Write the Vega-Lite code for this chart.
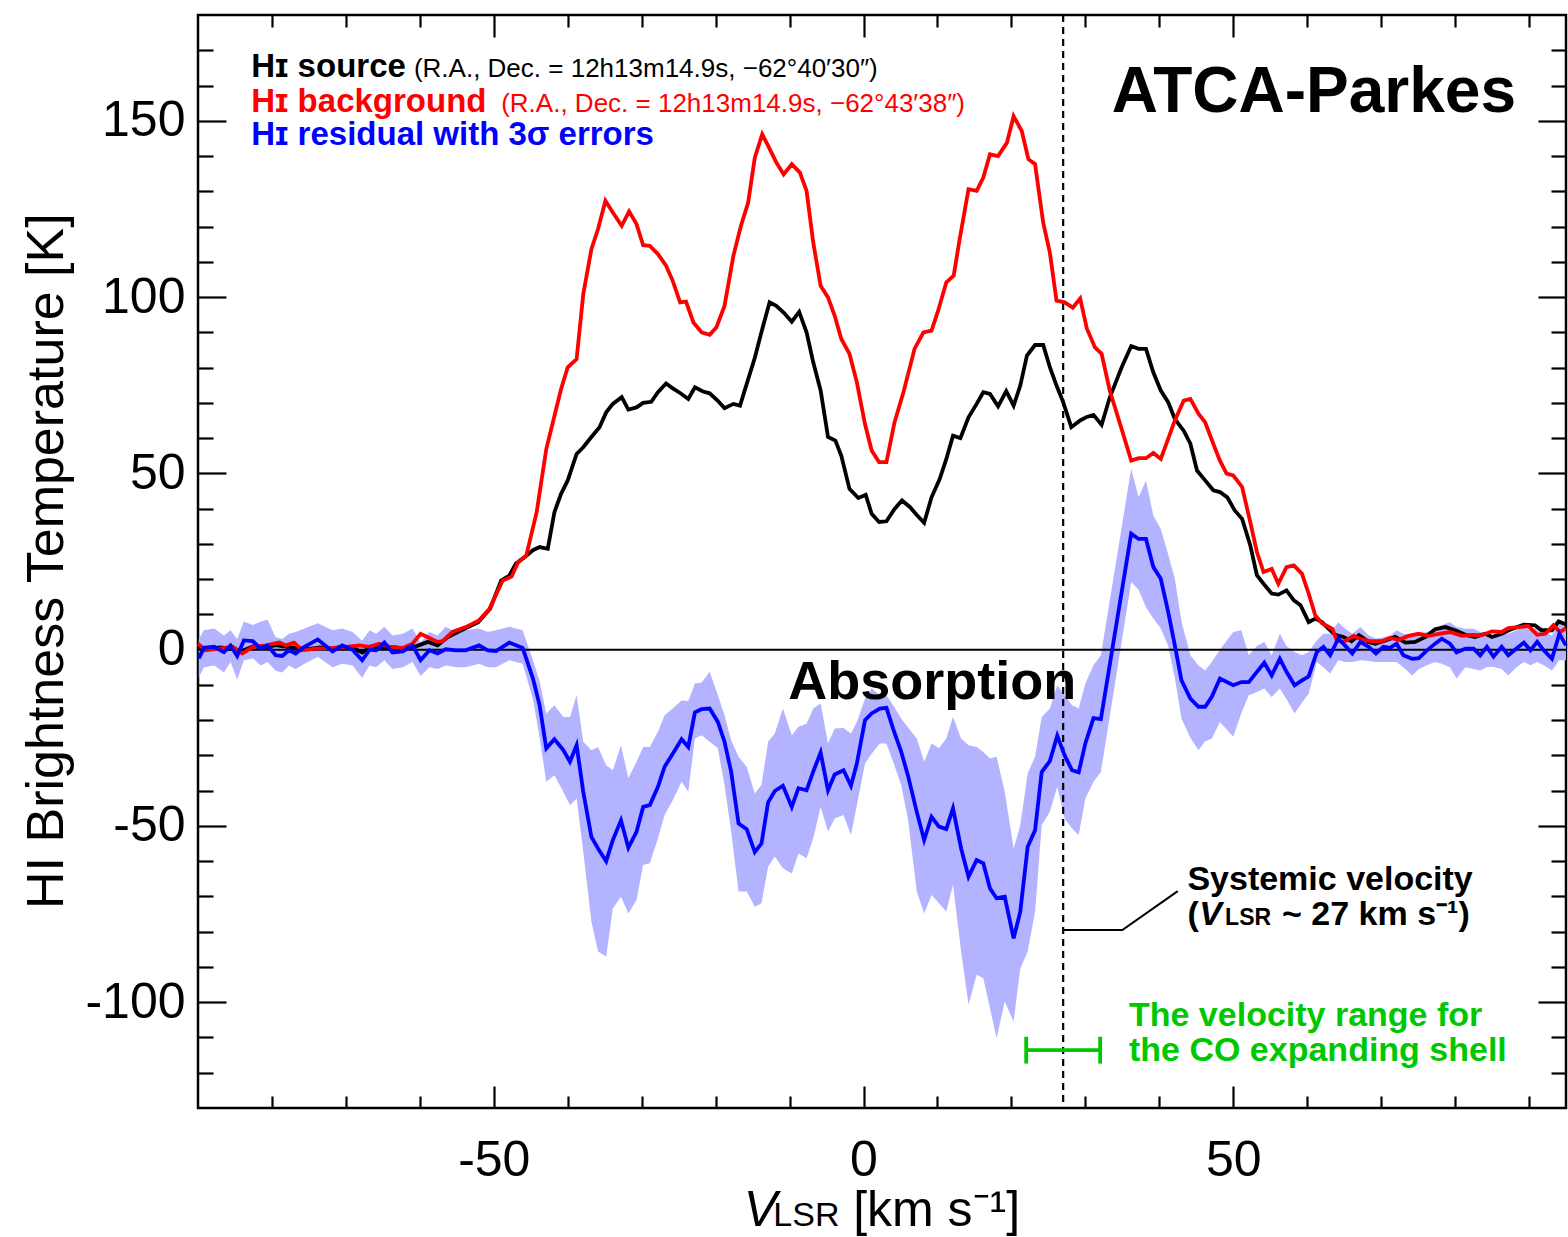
{
  "$schema": "https://vega.github.io/schema/vega-lite/v6.json",
  "width": 1368,
  "height": 1093,
  "autosize": {"type": "none"},
  "padding": {"left": 198, "top": 15, "right": 2, "bottom": 129},
  "background": "white",
  "config": {
    "font": "Liberation Sans",
    "view": {"stroke": "black", "strokeWidth": 2.5},
    "axis": {"grid": false, "domain": false, "tickColor": "black", "tickWidth": 2.2, "labelColor": "black", "labelFont": "Liberation Sans", "labelFontSize": 50, "labelOverlap": false, "labelBound": false, "labelFlush": false, "title": null}
  },
  "datasets": {
    "src": [
      {"v":-90,"T":0.8},{"v":-88.5,"T":0.2},{"v":-87,"T":0.6},{"v":-85.5,"T":0.3},{"v":-84,"T":-0.3},{"v":-82.5,"T":1.0},{"v":-81,"T":0.5},{"v":-79.5,"T":1.3},{"v":-78,"T":0.8},{"v":-76.5,"T":0.4},{"v":-75,"T":0.2},{"v":-73.5,"T":0.6},{"v":-72,"T":0.3},{"v":-70.5,"T":0.8},{"v":-69,"T":0.5},{"v":-67.8,"T":-0.8},{"v":-66.5,"T":0.9},{"v":-65,"T":0.4},{"v":-63.5,"T":0.7},{"v":-62.3,"T":0.3},{"v":-60.7,"T":0.8},{"v":-58.9,"T":2.2},{"v":-57.6,"T":1.2},{"v":-56.2,"T":3.6},{"v":-54.4,"T":5.5},{"v":-52.1,"T":7.8},{"v":-50.5,"T":11.6},{"v":-49.0,"T":19.6},{"v":-47.9,"T":21.0},{"v":-47.0,"T":24.4},{"v":-45.8,"T":26.3},{"v":-44.7,"T":28.2},{"v":-43.8,"T":29.1},{"v":-42.7,"T":28.6},{"v":-41.8,"T":39.0},{"v":-40.9,"T":44.2},{"v":-40.0,"T":48.0},{"v":-38.8,"T":55.5},{"v":-37.9,"T":57.4},{"v":-36.8,"T":60.3},{"v":-35.7,"T":63.1},{"v":-34.8,"T":67.3},{"v":-33.9,"T":69.7},{"v":-32.7,"T":71.6},{"v":-31.8,"T":68.1},{"v":-30.7,"T":68.7},{"v":-29.8,"T":70.0},{"v":-28.7,"T":70.3},{"v":-27.8,"T":73.0},{"v":-26.7,"T":75.5},{"v":-25.8,"T":74.1},{"v":-24.8,"T":72.8},{"v":-23.7,"T":71.1},{"v":-22.8,"T":74.4},{"v":-21.7,"T":73.2},{"v":-20.8,"T":72.7},{"v":-19.7,"T":70.6},{"v":-18.8,"T":68.5},{"v":-17.6,"T":69.7},{"v":-16.7,"T":69.2},{"v":-15.7,"T":76.0},{"v":-14.7,"T":82.8},{"v":-13.7,"T":90.9},{"v":-12.7,"T":98.5},{"v":-11.8,"T":97.5},{"v":-10.8,"T":95.6},{"v":-9.7,"T":93.0},{"v":-8.7,"T":95.8},{"v":-7.7,"T":90.0},{"v":-6.8,"T":81.5},{"v":-5.8,"T":73.5},{"v":-4.8,"T":60.3},{"v":-3.8,"T":59.3},{"v":-3.0,"T":55.0},{"v":-1.9,"T":45.6},{"v":-0.7,"T":43.0},{"v":0.3,"T":43.9},{"v":1.1,"T":38.5},{"v":2.1,"T":36.2},{"v":3.1,"T":36.4},{"v":4.2,"T":39.9},{"v":5.2,"T":42.3},{"v":6.3,"T":40.4},{"v":7.2,"T":38.2},{"v":8.2,"T":36.0},{"v":9.2,"T":43.2},{"v":10.3,"T":48.4},{"v":11.2,"T":54.1},{"v":12.1,"T":60.7},{"v":13.1,"T":60.0},{"v":14.2,"T":65.9},{"v":15.3,"T":69.7},{"v":16.2,"T":73.0},{"v":17.1,"T":72.5},{"v":18.2,"T":69.0},{"v":19.3,"T":73.3},{"v":20.3,"T":69.2},{"v":21.2,"T":74.9},{"v":22.1,"T":83.4},{"v":23.2,"T":86.4},{"v":24.3,"T":86.4},{"v":25.2,"T":80.1},{"v":26.1,"T":74.9},{"v":27.0,"T":70.2},{"v":28.1,"T":63.1},{"v":29.3,"T":65.0},{"v":30.2,"T":66.0},{"v":31.1,"T":66.6},{"v":32.2,"T":63.8},{"v":33.3,"T":71.5},{"v":34.9,"T":80.0},{"v":36.2,"T":86.1},{"v":37.2,"T":85.3},{"v":38.2,"T":85.3},{"v":39.2,"T":78.6},{"v":40.2,"T":73.5},{"v":41.2,"T":70.2},{"v":42.1,"T":65.4},{"v":43.3,"T":62.1},{"v":44.2,"T":58.4},{"v":45.1,"T":50.8},{"v":46.2,"T":48.0},{"v":47.3,"T":45.2},{"v":48.2,"T":44.7},{"v":49.2,"T":43.2},{"v":50.2,"T":39.5},{"v":51.2,"T":37.1},{"v":52.3,"T":29.6},{"v":53.2,"T":21.1},{"v":54.1,"T":18.7},{"v":55.2,"T":15.9},{"v":56.1,"T":15.6},{"v":57.2,"T":16.8},{"v":58.2,"T":14.0},{"v":59.1,"T":12.6},{"v":60.2,"T":7.8},{"v":61.1,"T":8.8},{"v":62.0,"T":7.8},{"v":62.9,"T":5.9},{"v":63.8,"T":4.2},{"v":64.9,"T":3.6},{"v":66.0,"T":2.4},{"v":67.0,"T":4.1},{"v":68.3,"T":2.2},{"v":69.2,"T":1.7},{"v":70.6,"T":2.6},{"v":71.9,"T":3.6},{"v":73.3,"T":2.0},{"v":74.6,"T":2.2},{"v":76.0,"T":3.6},{"v":77.3,"T":5.8},{"v":78.7,"T":6.4},{"v":80.0,"T":5.5},{"v":81.4,"T":4.2},{"v":82.7,"T":3.6},{"v":84.1,"T":4.5},{"v":85.0,"T":3.6},{"v":86.3,"T":4.5},{"v":87.7,"T":5.9},{"v":89.3,"T":7.1},{"v":90.8,"T":6.9},{"v":91.7,"T":5.5},{"v":93.1,"T":5.5},{"v":94.0,"T":8.0},{"v":95.0,"T":7.1}
    ],
    "bg": [
      {"v":-90,"T":1.7},{"v":-89,"T":-0.2},{"v":-87.1,"T":0.3},{"v":-85.3,"T":0.8},{"v":-84,"T":-1.1},{"v":-82.6,"T":0.8},{"v":-80.8,"T":1.2},{"v":-79,"T":2.0},{"v":-78.1,"T":1.2},{"v":-77,"T":2.0},{"v":-75.9,"T":-0.2},{"v":-74.1,"T":0.3},{"v":-71.8,"T":0.5},{"v":-70,"T":0.8},{"v":-68.2,"T":1.2},{"v":-66.8,"T":0.8},{"v":-65.5,"T":1.7},{"v":-64.1,"T":0.8},{"v":-62.3,"T":0.5},{"v":-61.0,"T":1.7},{"v":-59.9,"T":4.5},{"v":-58.7,"T":3.3},{"v":-57.6,"T":2.2},{"v":-56.9,"T":2.4},{"v":-55.6,"T":5.0},{"v":-53.8,"T":6.4},{"v":-52.0,"T":8.3},{"v":-50.6,"T":11.5},{"v":-48.8,"T":19.6},{"v":-47.6,"T":20.7},{"v":-46.7,"T":24.9},{"v":-45.6,"T":26.7},{"v":-44.2,"T":39.0},{"v":-42.9,"T":56.9},{"v":-40.9,"T":73.9},{"v":-40.0,"T":80.1},{"v":-38.8,"T":82.4},{"v":-37.9,"T":100.8},{"v":-36.8,"T":113.6},{"v":-35.9,"T":119.3},{"v":-34.9,"T":127.3},{"v":-33.9,"T":124.0},{"v":-32.7,"T":120.2},{"v":-31.7,"T":124.3},{"v":-30.7,"T":120.7},{"v":-29.8,"T":114.7},{"v":-28.9,"T":114.5},{"v":-27.8,"T":112.2},{"v":-26.7,"T":108.9},{"v":-25.8,"T":104.6},{"v":-24.8,"T":98.5},{"v":-24.0,"T":98.7},{"v":-23.0,"T":92.8},{"v":-21.9,"T":90.0},{"v":-20.8,"T":89.3},{"v":-19.9,"T":91.4},{"v":-18.8,"T":97.5},{"v":-17.6,"T":111.7},{"v":-16.6,"T":120.0},{"v":-15.6,"T":126.8},{"v":-14.7,"T":139.5},{"v":-13.7,"T":146.2},{"v":-12.9,"T":142.9},{"v":-11.8,"T":138.2},{"v":-10.8,"T":134.8},{"v":-9.7,"T":137.7},{"v":-8.6,"T":135.3},{"v":-7.7,"T":130.1},{"v":-6.8,"T":115.5},{"v":-5.8,"T":103.2},{"v":-4.8,"T":99.9},{"v":-3.9,"T":94.7},{"v":-3.0,"T":88.1},{"v":-1.9,"T":83.9},{"v":-0.9,"T":75.8},{"v":0.2,"T":64.0},{"v":1.1,"T":56.5},{"v":2.1,"T":53.2},{"v":3.1,"T":53.2},{"v":4.2,"T":64.5},{"v":5.4,"T":73.0},{"v":6.9,"T":85.3},{"v":8.1,"T":90.0},{"v":9.2,"T":90.5},{"v":10.1,"T":96.2},{"v":11.2,"T":104.2},{"v":12.2,"T":106.1},{"v":13.0,"T":116.4},{"v":14.2,"T":130.6},{"v":15.3,"T":130.1},{"v":16.2,"T":133.9},{"v":17.1,"T":140.5},{"v":18.2,"T":140.0},{"v":19.4,"T":143.8},{"v":20.3,"T":151.3},{"v":21.4,"T":147.1},{"v":22.3,"T":139.1},{"v":23.2,"T":137.7},{"v":24.3,"T":121.1},{"v":25.2,"T":112.6},{"v":26.1,"T":99.0},{"v":27.2,"T":98.5},{"v":28.3,"T":97.0},{"v":29.3,"T":99.6},{"v":30.2,"T":91.1},{"v":31.3,"T":85.7},{"v":32.2,"T":83.9},{"v":33.3,"T":73.5},{"v":34.9,"T":62.6},{"v":36.2,"T":53.6},{"v":37.2,"T":54.3},{"v":38.2,"T":54.3},{"v":39.2,"T":55.8},{"v":40.2,"T":54.1},{"v":41.2,"T":59.8},{"v":42.1,"T":65.0},{"v":43.3,"T":70.6},{"v":44.2,"T":71.1},{"v":45.3,"T":66.9},{"v":46.2,"T":64.5},{"v":47.3,"T":58.4},{"v":48.2,"T":53.6},{"v":49.1,"T":49.9},{"v":50.0,"T":49.4},{"v":51.2,"T":46.1},{"v":52.3,"T":36.2},{"v":53.2,"T":27.7},{"v":54.1,"T":22.0},{"v":55.2,"T":22.9},{"v":56.1,"T":18.7},{"v":57.2,"T":23.4},{"v":58.2,"T":23.9},{"v":59.3,"T":21.5},{"v":60.2,"T":15.9},{"v":61.1,"T":9.7},{"v":62.0,"T":7.5},{"v":63.4,"T":5.9},{"v":64.0,"T":2.6},{"v":64.9,"T":2.2},{"v":66.3,"T":3.9},{"v":67.4,"T":2.9},{"v":68.5,"T":2.4},{"v":70.1,"T":2.4},{"v":71.2,"T":3.3},{"v":72.4,"T":2.8},{"v":73.7,"T":3.9},{"v":75.1,"T":4.5},{"v":76.4,"T":3.9},{"v":77.8,"T":4.5},{"v":79.3,"T":5.0},{"v":80.9,"T":3.9},{"v":82.3,"T":4.2},{"v":83.6,"T":4.1},{"v":85.0,"T":5.2},{"v":86.3,"T":5.0},{"v":87.2,"T":6.1},{"v":88.6,"T":6.4},{"v":89.9,"T":6.7},{"v":91.1,"T":4.2},{"v":92.2,"T":4.5},{"v":93.3,"T":6.9},{"v":94.2,"T":5.0},{"v":95.0,"T":6.1}
    ],
    "res": [
      {"v":-89.9,"T":-2.5,"lo":-8,"hi":3},{"v":-89.2,"T":0.5,"lo":-5,"hi":5.5},{"v":-87.8,"T":0.8,"lo":-4.5,"hi":6},{"v":-86.5,"T":-0.7,"lo":-6.5,"hi":4},{"v":-85.6,"T":1.2,"lo":-3.5,"hi":5.5},{"v":-84.7,"T":-1.8,"lo":-8.5,"hi":3},{"v":-83.8,"T":2.6,"lo":-3,"hi":8},{"v":-82.6,"T":2.4,"lo":-2.5,"hi":7},{"v":-81.5,"T":0.3,"lo":-4.5,"hi":8},{"v":-80.6,"T":1.2,"lo":-3.5,"hi":8.5},{"v":-79.5,"T":-1.6,"lo":-6,"hi":3.5},{"v":-78.6,"T":-1.8,"lo":-6.5,"hi":3},{"v":-77.7,"T":-0.2,"lo":-4.5,"hi":4.5},{"v":-76.8,"T":-1.1,"lo":-5.5,"hi":5},{"v":-75.6,"T":0.8,"lo":-4,"hi":6},{"v":-73.8,"T":2.9,"lo":-2,"hi":7.5},{"v":-71.8,"T":-0.5,"lo":-5,"hi":5.5},{"v":-70.5,"T":1.2,"lo":-4,"hi":6},{"v":-69.1,"T":0,"lo":-4.5,"hi":5},{"v":-67.8,"T":-3.0,"lo":-8,"hi":2.5},{"v":-66.8,"T":0,"lo":-4.5,"hi":5.5},{"v":-65.9,"T":-0.2,"lo":-5,"hi":4.5},{"v":-64.8,"T":2.0,"lo":-3,"hi":6.5},{"v":-63.7,"T":-0.8,"lo":-5.5,"hi":4},{"v":-62.3,"T":-0.5,"lo":-5,"hi":4.5},{"v":-61.0,"T":1.2,"lo":-3.5,"hi":6},{"v":-59.9,"T":-3.0,"lo":-7.5,"hi":2},{"v":-58.7,"T":-0.2,"lo":-5,"hi":5},{"v":-57.6,"T":-1.1,"lo":-5.5,"hi":4},{"v":-56.5,"T":0.1,"lo":-4.5,"hi":6.5},{"v":-55.1,"T":-0.2,"lo":-5,"hi":5},{"v":-53.8,"T":-0.2,"lo":-5,"hi":5.5},{"v":-52.0,"T":1.2,"lo":-4,"hi":6},{"v":-50.8,"T":-0.2,"lo":-5,"hi":5},{"v":-49.7,"T":-0.4,"lo":-5,"hi":5.5},{"v":-47.9,"T":2.0,"lo":-3,"hi":6.5},{"v":-46.1,"T":0.5,"lo":-4,"hi":5.5},
      {"v":-44.7,"T":-8.2,"lo":-14,"hi":-3},{"v":-43.8,"T":-15.8,"lo":-25,"hi":-9},{"v":-42.9,"T":-28.0,"lo":-37.5,"hi":-18.1},{"v":-41.8,"T":-25.4,"lo":-35.6,"hi":-15.8},{"v":-40.6,"T":-28.5,"lo":-40.3,"hi":-19.1},{"v":-39.7,"T":-31.8,"lo":-44.1,"hi":-19.1},{"v":-38.8,"T":-27.1,"lo":-42.2,"hi":-12.9},{"v":-37.9,"T":-40.3,"lo":-57.3,"hi":-26.1},{"v":-36.8,"T":-53.1,"lo":-77.1,"hi":-28.5},{"v":-35.9,"T":-56.4,"lo":-85.6,"hi":-27.6},{"v":-34.8,"T":-60.0,"lo":-87.0,"hi":-32.8},{"v":-33.9,"T":-54.0,"lo":-73.4,"hi":-34.2},{"v":-32.8,"T":-48.4,"lo":-70.1,"hi":-27.1},{"v":-31.8,"T":-56.2,"lo":-74.8,"hi":-36.5},{"v":-30.7,"T":-51.7,"lo":-71.0,"hi":-31.8},{"v":-29.8,"T":-44.6,"lo":-61.1,"hi":-27.6},{"v":-28.9,"T":-44.1,"lo":-60.6,"hi":-27.6},{"v":-27.8,"T":-38.9,"lo":-53.5,"hi":-23.3},{"v":-26.9,"T":-33.2,"lo":-46.9,"hi":-18.6},{"v":-25.8,"T":-29.5,"lo":-42.7,"hi":-16.7},{"v":-24.6,"T":-25.4,"lo":-37.5,"hi":-14.4},{"v":-23.7,"T":-27.6,"lo":-40.3,"hi":-14.6},{"v":-22.8,"T":-17.8,"lo":-25.2,"hi":-9.6},{"v":-21.9,"T":-16.9,"lo":-24.3,"hi":-9.3},{"v":-20.8,"T":-16.7,"lo":-26.1,"hi":-6.3},{"v":-19.7,"T":-20.5,"lo":-28.0,"hi":-12.9},{"v":-18.8,"T":-26.1,"lo":-38.4,"hi":-18.6},{"v":-17.9,"T":-34.6,"lo":-51.6,"hi":-25.7},{"v":-16.9,"T":-49.3,"lo":-68.6,"hi":-30.4},{"v":-15.8,"T":-50.9,"lo":-68.6,"hi":-33.2},{"v":-14.7,"T":-57.4,"lo":-72.9,"hi":-40.8},{"v":-13.8,"T":-55.0,"lo":-71.9,"hi":-38.4},{"v":-12.9,"T":-43.3,"lo":-61.6,"hi":-26.1},{"v":-12.0,"T":-40.1,"lo":-58.7,"hi":-23.8},{"v":-10.9,"T":-38.6,"lo":-62.0,"hi":-16.7},{"v":-9.7,"T":-44.6,"lo":-63.5,"hi":-24.3},{"v":-8.8,"T":-39.3,"lo":-57.8,"hi":-21.9},{"v":-7.7,"T":-39.9,"lo":-59.2,"hi":-21.0},{"v":-6.8,"T":-34.6,"lo":-53.5,"hi":-16.7},{"v":-5.8,"T":-29.2,"lo":-44.6,"hi":-15.3},{"v":-4.8,"T":-39.9,"lo":-51.6,"hi":-26.6},{"v":-3.9,"T":-35.4,"lo":-47.9,"hi":-22.4},{"v":-2.7,"T":-34.2,"lo":-46.9,"hi":-22.2},{"v":-1.7,"T":-38.6,"lo":-52.6,"hi":-23.8},{"v":-0.9,"T":-32.3,"lo":-44.1,"hi":-20.5},{"v":0.2,"T":-20.0,"lo":-32.3,"hi":-13.9},{"v":1.1,"T":-18.1,"lo":-29.5,"hi":-11.0},{"v":2.2,"T":-16.7,"lo":-26.6,"hi":-12.9},{"v":3.1,"T":-16.5,"lo":-26.6,"hi":-12.9},{"v":4.0,"T":-22.4,"lo":-31.8,"hi":-15.8},{"v":5.1,"T":-29.0,"lo":-38.4,"hi":-19.5},{"v":6.0,"T":-35.6,"lo":-47.9,"hi":-22.0},{"v":7.2,"T":-46.0,"lo":-68.6,"hi":-25.2},{"v":8.2,"T":-54.0,"lo":-74.8,"hi":-31.8},{"v":9.2,"T":-47.4,"lo":-69.6,"hi":-26.6},{"v":10.2,"T":-50.2,"lo":-71.9,"hi":-28.0},{"v":11.2,"T":-50.9,"lo":-74.3,"hi":-25.2},{"v":12.1,"T":-45.0,"lo":-66.7,"hi":-19.1},{"v":13.2,"T":-56.4,"lo":-85.6,"hi":-25.2},{"v":14.2,"T":-64.4,"lo":-100.7,"hi":-27.1},{"v":15.3,"T":-59.7,"lo":-92.2,"hi":-27.6},{"v":16.2,"T":-60.6,"lo":-93.2,"hi":-29.0},{"v":17.1,"T":-67.7,"lo":-101.7,"hi":-30.9},{"v":18.0,"T":-70.5,"lo":-110.2,"hi":-30.4},{"v":19.1,"T":-70.1,"lo":-99.8,"hi":-40.3},{"v":20.3,"T":-81.9,"lo":-105.5,"hi":-56.4},{"v":21.2,"T":-74.3,"lo":-90.4,"hi":-49.8},{"v":22.2,"T":-55.9,"lo":-85.6,"hi":-35.1},{"v":23.2,"T":-51.2,"lo":-74.3,"hi":-30.4},{"v":24.1,"T":-34.7,"lo":-49.8,"hi":-19.1},{"v":25.2,"T":-31.6,"lo":-46.0,"hi":-16.7},{"v":26.2,"T":-24.4,"lo":-38.9,"hi":-10.1},{"v":27.2,"T":-30.0,"lo":-47.9,"hi":-12.9},{"v":28.2,"T":-34.2,"lo":-50.7,"hi":-15.8},{"v":29.1,"T":-34.8,"lo":-52.6,"hi":-16.7},{"v":30.0,"T":-26.6,"lo":-42.2,"hi":-9.6},{"v":31.1,"T":-19.4,"lo":-37.5,"hi":-4.4},{"v":32.1,"T":-19.7,"lo":-34.7,"hi":-1.6},
      {"v":36.2,"T":32.9,"lo":19.2,"hi":51.3},{"v":37.2,"T":31.4,"lo":17.0,"hi":43.2},{"v":38.2,"T":31.4,"lo":12.0,"hi":47.9},{"v":39.2,"T":23.4,"lo":8.8,"hi":38.0},{"v":40.2,"T":20.1,"lo":6.0,"hi":34.2},{"v":41.2,"T":10.7,"lo":1.0,"hi":27.0},{"v":42.1,"T":1.2,"lo":-8.0,"hi":20.1},{"v":43.0,"T":-8.7,"lo":-19.5,"hi":8.0},{"v":44.2,"T":-13.9,"lo":-25.0,"hi":-1.6},{"v":45.3,"T":-16.2,"lo":-28.5,"hi":-4.5},{"v":46.2,"T":-16.2,"lo":-26.0,"hi":-5.9},{"v":47.1,"T":-13.4,"lo":-25.2,"hi":-3.5},{"v":48.2,"T":-8.2,"lo":-20.5,"hi":0},{"v":50.0,"T":-10.1,"lo":-24.7,"hi":5.0},{"v":51.1,"T":-9.2,"lo":-18.0,"hi":5.5},{"v":52.1,"T":-9.2,"lo":-12.9,"hi":-1.6},{"v":53.2,"T":-6.3,"lo":-12.0,"hi":1.0},{"v":54.2,"T":-3.7,"lo":-11.0,"hi":2.2},{"v":55.2,"T":-7.3,"lo":-13.4,"hi":-1.6},{"v":56.3,"T":-2.6,"lo":-11.0,"hi":4.5},{"v":57.2,"T":-6.3,"lo":-14.0,"hi":1.0},{"v":58.3,"T":-10.1,"lo":-18.1,"hi":-0.7},{"v":59.3,"T":-8.7,"lo":-15.0,"hi":-1.6},{"v":60.2,"T":-7.6,"lo":-12.5,"hi":-0.7},{"v":61.3,"T":-0.7,"lo":-3.5,"hi":2.7},{"v":62.2,"T":0.8,"lo":-5.0,"hi":4.5},{"v":63.1,"T":-1.6,"lo":-6.8,"hi":4.5},{"v":64.2,"T":3.1,"lo":-3.0,"hi":7.8},{"v":65.1,"T":1.2,"lo":-3.5,"hi":6.0},{"v":66.1,"T":-1.1,"lo":-3.5,"hi":4.5},{"v":67.2,"T":2.2,"lo":-3.0,"hi":6.4},{"v":68.3,"T":0.8,"lo":-3.2,"hi":4.1},{"v":69.3,"T":-1.1,"lo":-3.5,"hi":3.1},{"v":70.3,"T":0.8,"lo":-3.5,"hi":3.5},{"v":71.2,"T":0.5,"lo":-3.5,"hi":4.0},{"v":72.1,"T":1.7,"lo":-3.5,"hi":5.5},{"v":73.0,"T":-1.6,"lo":-5.0,"hi":4.5},{"v":74.2,"T":-2.6,"lo":-7.3,"hi":4.1},{"v":75.1,"T":-2.4,"lo":-5.5,"hi":4.5},{"v":76.2,"T":-0.2,"lo":-4.4,"hi":5.0},{"v":77.3,"T":1.7,"lo":-3.5,"hi":5.9},{"v":78.2,"T":3.1,"lo":-4.0,"hi":7.0},{"v":79.3,"T":1.7,"lo":-5.0,"hi":7.8},{"v":80.2,"T":-0.8,"lo":-8.2,"hi":6.4},{"v":81.4,"T":0.3,"lo":-5.0,"hi":5.9},{"v":82.5,"T":0.3,"lo":-5.5,"hi":5.9},{"v":83.4,"T":-1.6,"lo":-5.9,"hi":5.0},{"v":84.3,"T":0.8,"lo":-4.9,"hi":5.0},{"v":85.2,"T":-2.0,"lo":-4.9,"hi":3.1},{"v":86.3,"T":0.8,"lo":-5.5,"hi":4.5},{"v":87.2,"T":-1.6,"lo":-7.3,"hi":4.5},{"v":88.3,"T":0.3,"lo":-5.0,"hi":5.5},{"v":89.3,"T":2.0,"lo":-3.5,"hi":6.4},{"v":90.2,"T":-0.2,"lo":-4.4,"hi":5.5},{"v":91.1,"T":2.2,"lo":-3.5,"hi":6.4},{"v":92.0,"T":-0.2,"lo":-4.4,"hi":5.0},{"v":93.1,"T":-2.6,"lo":-5.9,"hi":4.0},{"v":94.1,"T":4.5,"lo":-3.0,"hi":8.0},{"v":95.0,"T":1.2,"lo":-3.0,"hi":6.0}
    ]
  },
  "resolve": {"axis": {"x": "independent", "y": "independent"}},
  "layer": [
    {
      "data": {"name": "res"},
      "mark": {"type": "area", "color": "#b3b3ff", "opacity": 1},
      "encoding": {
        "x": {"field": "v", "type": "quantitative", "scale": {"domain": [-90, 95], "nice": false, "zero": false},
              "axis": {"orient": "bottom", "values": [-50, 0, 50], "ticks": false, "labelPadding": 27, "labelExpr": "'' + datum.value"}},
        "y": {"field": "lo", "type": "quantitative", "scale": {"domain": [-130, 180], "nice": false, "zero": false},
              "axis": {"orient": "left", "values": [-100, -50, 0, 50, 100, 150], "ticks": false, "labelPadding": 13, "labelExpr": "'' + datum.value"}},
        "y2": {"field": "hi"}
      }
    },
    {
      "data": {"values": [{"T": 0}]},
      "mark": {"type": "rule", "color": "black", "strokeWidth": 2},
      "encoding": {
        "y": {"field": "T", "type": "quantitative", "scale": {"domain": [-130, 180], "nice": false, "zero": false},
              "axis": {"orient": "right", "values": [-120, -110, -90, -80, -70, -60, -40, -30, -20, -10, 10, 20, 30, 40, 60, 70, 80, 90, 110, 120, 130, 140, 160, 170], "labels": false, "tickSize": -15}}
      }
    },
    {
      "data": {"values": [{"v": 27}]},
      "mark": {"type": "rule", "color": "black", "strokeWidth": 2.2, "strokeDash": [7, 5]},
      "encoding": {
        "x": {"field": "v", "type": "quantitative", "scale": {"domain": [-90, 95], "nice": false, "zero": false},
              "axis": {"orient": "top", "values": [-80, -70, -60, -40, -30, -20, -10, 10, 20, 30, 40, 60, 70, 80, 90], "labels": false, "tickSize": -12}}
      }
    },
    {
      "data": {"name": "src"},
      "mark": {"type": "line", "color": "black", "strokeWidth": 3.8},
      "encoding": {
        "x": {"field": "v", "type": "quantitative", "scale": {"domain": [-90, 95], "nice": false, "zero": false},
              "axis": {"orient": "bottom", "values": [-50, 0, 50], "labels": false, "tickSize": -22}},
        "y": {"field": "T", "type": "quantitative", "scale": {"domain": [-130, 180], "nice": false, "zero": false},
              "axis": {"orient": "left", "values": [-100, -50, 0, 50, 100, 150], "labels": false, "tickSize": -28}}
      }
    },
    {
      "data": {"name": "bg"},
      "mark": {"type": "line", "color": "#ff0000", "strokeWidth": 3.8},
      "encoding": {
        "x": {"field": "v", "type": "quantitative", "scale": {"domain": [-90, 95], "nice": false, "zero": false},
              "axis": {"orient": "bottom", "values": [-80, -70, -60, -40, -30, -20, -10, 10, 20, 30, 40, 60, 70, 80, 90], "labels": false, "tickSize": -12}},
        "y": {"field": "T", "type": "quantitative", "scale": {"domain": [-130, 180], "nice": false, "zero": false},
              "axis": {"orient": "left", "values": [-120, -110, -90, -80, -70, -60, -40, -30, -20, -10, 10, 20, 30, 40, 60, 70, 80, 90, 110, 120, 130, 140, 160, 170], "labels": false, "tickSize": -15}}
      }
    },
    {
      "data": {"name": "res"},
      "mark": {"type": "line", "color": "#0000ff", "strokeWidth": 3.8},
      "encoding": {
        "x": {"field": "v", "type": "quantitative", "scale": {"domain": [-90, 95], "nice": false, "zero": false},
              "axis": {"orient": "top", "values": [-50, 0, 50], "labels": false, "tickSize": -22}},
        "y": {"field": "T", "type": "quantitative", "scale": {"domain": [-130, 180], "nice": false, "zero": false},
              "axis": {"orient": "right", "values": [-100, -50, 0, 50, 100, 150], "labels": false, "tickSize": -28}}
      }
    },
    {
      "data": {"values": [{"v": 27, "T": -79.5, "o": 1}, {"v": 35, "T": -79.5, "o": 2}, {"v": 42.5, "T": -68.5, "o": 3}]},
      "mark": {"type": "line", "color": "black", "strokeWidth": 2},
      "encoding": {
        "x": {"field": "v", "type": "quantitative", "scale": {"domain": [-90, 95], "nice": false, "zero": false}, "axis": null},
        "y": {"field": "T", "type": "quantitative", "scale": {"domain": [-130, 180], "nice": false, "zero": false}, "axis": null},
        "order": {"field": "o"}
      }
    },
    {
      "data": {"values": [{"v1": 22, "v2": 32, "T": -113.6}]},
      "mark": {"type": "rule", "color": "#00c800", "strokeWidth": 3.8},
      "encoding": {
        "x": {"field": "v1", "type": "quantitative", "scale": {"domain": [-90, 95], "nice": false, "zero": false}, "axis": null},
        "x2": {"field": "v2"},
        "y": {"field": "T", "type": "quantitative", "scale": {"domain": [-130, 180], "nice": false, "zero": false}, "axis": null}
      }
    },
    {
      "data": {"values": [{"v": 22, "T1": -117.4, "T2": -109.8}, {"v": 32, "T1": -117.4, "T2": -109.8}]},
      "mark": {"type": "rule", "color": "#00c800", "strokeWidth": 3.8},
      "encoding": {
        "x": {"field": "v", "type": "quantitative", "scale": {"domain": [-90, 95], "nice": false, "zero": false}, "axis": null},
        "y": {"field": "T1", "type": "quantitative", "scale": {"domain": [-130, 180], "nice": false, "zero": false}, "axis": null},
        "y2": {"field": "T2"}
      }
    },
    {
      "data": {"values": [
        {"v": -82.8, "T": 162.3, "text": "Hɪ source", "series": "source"},
        {"v": -82.8, "T": 152.4, "text": "Hɪ background", "series": "background"},
        {"v": -82.8, "T": 143.1, "text": "Hɪ residual with 3σ errors", "series": "residual"}
      ]},
      "mark": {"type": "text", "align": "left", "baseline": "alphabetic", "fontSize": 33, "fontWeight": "bold", "font": "Liberation Sans"},
      "encoding": {
        "x": {"field": "v", "type": "quantitative", "scale": {"domain": [-90, 95], "nice": false, "zero": false}, "axis": null},
        "y": {"field": "T", "type": "quantitative", "scale": {"domain": [-130, 180], "nice": false, "zero": false}, "axis": null},
        "text": {"field": "text"},
        "color": {"field": "series", "type": "nominal", "scale": {"domain": ["source", "background", "residual"], "range": ["#000000", "#ff0000", "#0000ff"]}, "legend": null}
      }
    },
    {
      "data": {"values": [
        {"v": -60.8, "T": 162.3, "text": "(R.A., Dec. = 12h13m14.9s, −62°40′30″)", "series": "source"},
        {"v": -49.0, "T": 152.4, "text": "(R.A., Dec. = 12h13m14.9s, −62°43′38″)", "series": "background"}
      ]},
      "mark": {"type": "text", "align": "left", "baseline": "alphabetic", "fontSize": 26, "font": "Liberation Sans"},
      "encoding": {
        "x": {"field": "v", "type": "quantitative", "scale": {"domain": [-90, 95], "nice": false, "zero": false}, "axis": null},
        "y": {"field": "T", "type": "quantitative", "scale": {"domain": [-130, 180], "nice": false, "zero": false}, "axis": null},
        "text": {"field": "text"},
        "color": {"field": "series", "type": "nominal", "scale": {"domain": ["source", "background", "residual"], "range": ["#000000", "#ff0000", "#0000ff"]}, "legend": null}
      }
    },
    {
      "data": {"values": [{"v": 60.9, "T": 152.4, "text": "ATCA-Parkes"}]},
      "mark": {"type": "text", "align": "center", "baseline": "alphabetic", "fontSize": 64, "fontWeight": "bold", "font": "Liberation Sans", "color": "black"},
      "encoding": {
        "x": {"field": "v", "type": "quantitative", "scale": {"domain": [-90, 95], "nice": false, "zero": false}, "axis": null},
        "y": {"field": "T", "type": "quantitative", "scale": {"domain": [-130, 180], "nice": false, "zero": false}, "axis": null},
        "text": {"field": "text"}
      }
    },
    {
      "data": {"values": [{"v": 9.3, "T": -13.9, "text": "Absorption"}]},
      "mark": {"type": "text", "align": "center", "baseline": "alphabetic", "fontSize": 54, "fontWeight": "bold", "font": "Liberation Sans", "color": "black"},
      "encoding": {
        "x": {"field": "v", "type": "quantitative", "scale": {"domain": [-90, 95], "nice": false, "zero": false}, "axis": null},
        "y": {"field": "T", "type": "quantitative", "scale": {"domain": [-130, 180], "nice": false, "zero": false}, "axis": null},
        "text": {"field": "text"}
      }
    },
    {
      "data": {"values": [
        {"v": 43.8, "T": -68.3, "text": "Systemic velocity"},
        {"v": 43.8, "T": -78.2, "text": "("},
        {"v": 56.6, "T": -78.2, "text": "~ 27 km s⁻¹)"}
      ]},
      "mark": {"type": "text", "align": "left", "baseline": "alphabetic", "fontSize": 34, "fontWeight": "bold", "font": "Liberation Sans", "color": "black"},
      "encoding": {
        "x": {"field": "v", "type": "quantitative", "scale": {"domain": [-90, 95], "nice": false, "zero": false}, "axis": null},
        "y": {"field": "T", "type": "quantitative", "scale": {"domain": [-130, 180], "nice": false, "zero": false}, "axis": null},
        "text": {"field": "text"}
      }
    },
    {
      "data": {"values": [{"v": 45.4, "T": -78.2, "text": "V"}]},
      "mark": {"type": "text", "align": "left", "baseline": "alphabetic", "fontSize": 34, "fontWeight": "bold", "fontStyle": "italic", "font": "Liberation Sans", "color": "black"},
      "encoding": {
        "x": {"field": "v", "type": "quantitative", "scale": {"domain": [-90, 95], "nice": false, "zero": false}, "axis": null},
        "y": {"field": "T", "type": "quantitative", "scale": {"domain": [-130, 180], "nice": false, "zero": false}, "axis": null},
        "text": {"field": "text"}
      }
    },
    {
      "data": {"values": [{"v": 48.9, "T": -78.2, "text": "LSR"}]},
      "mark": {"type": "text", "align": "left", "baseline": "alphabetic", "fontSize": 23, "fontWeight": "bold", "font": "Liberation Sans", "color": "black"},
      "encoding": {
        "x": {"field": "v", "type": "quantitative", "scale": {"domain": [-90, 95], "nice": false, "zero": false}, "axis": null},
        "y": {"field": "T", "type": "quantitative", "scale": {"domain": [-130, 180], "nice": false, "zero": false}, "axis": null},
        "text": {"field": "text"}
      }
    },
    {
      "data": {"values": [
        {"v": 35.9, "T": -106.8, "text": "The velocity range for"},
        {"v": 35.9, "T": -116.7, "text": "the CO expanding shell"}
      ]},
      "mark": {"type": "text", "align": "left", "baseline": "alphabetic", "fontSize": 34, "fontWeight": "bold", "font": "Liberation Sans", "color": "#00c800"},
      "encoding": {
        "x": {"field": "v", "type": "quantitative", "scale": {"domain": [-90, 95], "nice": false, "zero": false}, "axis": null},
        "y": {"field": "T", "type": "quantitative", "scale": {"domain": [-130, 180], "nice": false, "zero": false}, "axis": null},
        "text": {"field": "text"}
      }
    },
    {
      "data": {"values": [{"v": -16.2, "T": -163.5, "text": "V"}]},
      "mark": {"type": "text", "align": "left", "baseline": "alphabetic", "fontSize": 50, "fontStyle": "italic", "font": "Liberation Sans", "color": "black"},
      "encoding": {
        "x": {"field": "v", "type": "quantitative", "scale": {"domain": [-90, 95], "nice": false, "zero": false}, "axis": null},
        "y": {"field": "T", "type": "quantitative", "scale": {"domain": [-130, 180], "nice": false, "zero": false}, "axis": null},
        "text": {"field": "text"}
      }
    },
    {
      "data": {"values": [{"v": -12.2, "T": -163.5, "text": "LSR"}]},
      "mark": {"type": "text", "align": "left", "baseline": "alphabetic", "fontSize": 34, "font": "Liberation Sans", "color": "black"},
      "encoding": {
        "x": {"field": "v", "type": "quantitative", "scale": {"domain": [-90, 95], "nice": false, "zero": false}, "axis": null},
        "y": {"field": "T", "type": "quantitative", "scale": {"domain": [-130, 180], "nice": false, "zero": false}, "axis": null},
        "text": {"field": "text"}
      }
    },
    {
      "data": {"values": [{"v": -1.4, "T": -163.5, "text": "[km s⁻¹]"}]},
      "mark": {"type": "text", "align": "left", "baseline": "alphabetic", "fontSize": 50, "font": "Liberation Sans", "color": "black"},
      "encoding": {
        "x": {"field": "v", "type": "quantitative", "scale": {"domain": [-90, 95], "nice": false, "zero": false}, "axis": null},
        "y": {"field": "T", "type": "quantitative", "scale": {"domain": [-130, 180], "nice": false, "zero": false}, "axis": null},
        "text": {"field": "text"}
      }
    },
    {
      "data": {"values": [{"v": -108.3, "T": 25.1, "text": "HI Brightness Temperature [K]"}]},
      "mark": {"type": "text", "align": "center", "baseline": "alphabetic", "angle": 270, "fontSize": 52, "font": "Liberation Sans", "color": "black"},
      "encoding": {
        "x": {"field": "v", "type": "quantitative", "scale": {"domain": [-90, 95], "nice": false, "zero": false}, "axis": null},
        "y": {"field": "T", "type": "quantitative", "scale": {"domain": [-130, 180], "nice": false, "zero": false}, "axis": null},
        "text": {"field": "text"}
      }
    }
  ]
}
